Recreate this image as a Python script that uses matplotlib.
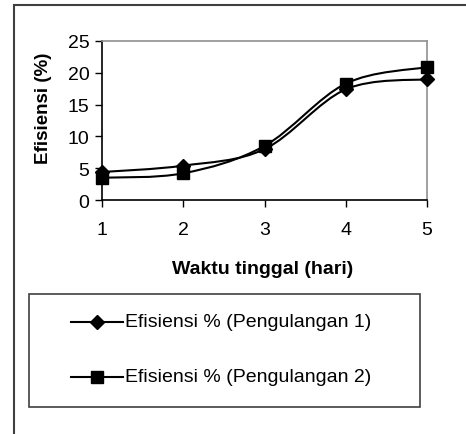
import matplotlib
matplotlib.use("Agg")
import matplotlib.pyplot as plt
from matplotlib.path import Path
from matplotlib.patches import PathPatch, Rectangle
from matplotlib.lines import Line2D
import numpy as np

plt.rcParams['font.family'] = ['Liberation Sans', 'DejaVu Sans']

days = [1, 2, 3, 4, 5]
eff_rep1 = [4.4, 5.4, 8.0, 17.4, 19.0]
eff_rep2 = [3.5, 4.2, 8.5, 18.3, 20.9]
yticks = [0, 5, 10, 15, 20, 25]
xlabel = "Waktu tinggal (hari)"
ylabel = "Efisiensi (%)"
labels = ["Efisiensi % (Pengulangan 1)", "Efisiensi % (Pengulangan 2)"]

W, H = 466, 435
FS = 14
fig = plt.figure(figsize=(W / 100, H / 100), dpi=100)

# outer frame (clipped at right/bottom)
fig.patches.append(Rectangle((14 / W, -0.1), 1.2, 1 - 6 / H + 0.1, transform=fig.transFigure,
                             fill=False, edgecolor='#404040', linewidth=1.5))

ax = fig.add_axes([102 / W, 1 - 201 / H, (427 - 102) / W, (201 - 42) / H])


def smooth_path(xs, ys):
    pts = np.column_stack([xs, ys]).astype(float)
    n = len(pts)
    verts = [pts[0]]
    codes = [Path.MOVETO]
    for i in range(n - 1):
        p0 = pts[i - 1] if i > 0 else pts[i]
        p1 = pts[i]
        p2 = pts[i + 1]
        p3 = pts[i + 2] if i + 2 < n else pts[i + 1]
        c1 = p1 + (p2 - p0) / 6.0
        c2 = p2 - (p3 - p1) / 6.0
        verts += [c1, c2, p2]
        codes += [Path.CURVE4] * 3
    return Path(verts, codes)


for ys, mk, ms in [(eff_rep1, 'D', 7), (eff_rep2, 's', 8)]:
    ax.add_patch(PathPatch(smooth_path(days, ys), fill=False, edgecolor='black', linewidth=1.5,
                           clip_on=False, zorder=2))
    ax.plot(days, ys, linestyle='none', marker=mk, markersize=ms, color='black', clip_on=False, zorder=3)

ax.set_xlim(1, 5)
ax.set_ylim(0, 25)
ax.set_xticks(days)
ax.set_yticks(yticks)
ax.tick_params(axis='both', labelsize=FS, direction='out', length=5, width=1, color='black')
ax.tick_params(axis='x', pad=10)
ax.tick_params(axis='y', pad=4)
for s in ['top', 'right']:
    ax.spines[s].set_color('#909090')
    ax.spines[s].set_linewidth(1.2)
for s in ['left', 'bottom']:
    ax.spines[s].set_color('black')
    ax.spines[s].set_linewidth(1.2)

fig.text(263 / W, 1 - 270 / H, xlabel, ha='center', va='center', fontsize=FS, fontweight='bold')
fig.text(43 / W, 1 - 108 / H, ylabel, ha='center', va='center', fontsize=FS - 0.5, fontweight='bold',
         rotation=90)

# legend
fig.patches.append(Rectangle((29 / W, 1 - 408 / H), (420 - 29) / W, (408 - 295) / H,
                             transform=fig.transFigure, fill=False, edgecolor='#404040', linewidth=1.2))
for lab, mk, ms, yy in [(labels[0], 'D', 7, 323), (labels[1], 's', 8, 378)]:
    fig.lines.append(Line2D([71 / W, 123 / W], [1 - yy / H] * 2, transform=fig.transFigure,
                            color='black', linewidth=1.5))
    fig.lines.append(Line2D([97 / W], [1 - yy / H], transform=fig.transFigure, marker=mk,
                            markersize=ms, color='black', linestyle='none'))
    fig.text(125 / W, 1 - yy / H, lab, ha='left', va='center', fontsize=FS)

fig.savefig("out.png", dpi=100)
